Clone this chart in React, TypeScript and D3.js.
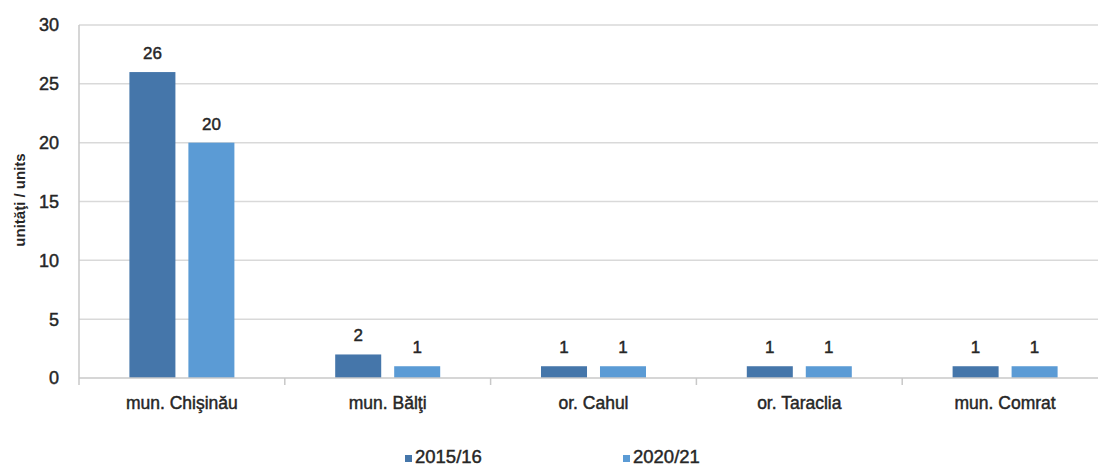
import React from "react";
import * as d3 from "d3";

const categories = ["mun. Chişinău", "mun. Bălţi", "or. Cahul", "or. Taraclia", "mun. Comrat"];
const seriesNames = ["2015/16", "2020/21"];
const values2015 = [26, 2, 1, 1, 1];
const values2020 = [20, 1, 1, 1, 1];
const yTicks = [0, 5, 10, 15, 20, 25, 30];
const colors = ["#4576AA", "#5B9BD5"];

const W = 1098;
const H = 466;
const FONT = "'Liberation Sans', Arial, sans-serif";
const TXT = "#262626";
const SW = 0.45;

export default function App() {
  const left = 79;
  const band = 205.8;
  const x = d3.scaleBand<string>().domain(categories).range([left, left + band * categories.length]).paddingInner(0).paddingOuter(0);
  const inner = d3.scaleBand<string>().domain(seriesNames).range([0, 105]).paddingInner(0.22);
  const y = d3.scaleLinear().domain([0, 30]).range([378, 25]);
  const series = [values2015, values2020];
  const off = (band - 105) / 2;
  const tp = { fill: TXT, stroke: TXT, strokeWidth: SW };

  return (
    <svg width={W} height={H} style={{ position: "absolute", left: 0, top: 0, background: "#fff" }} fontFamily={FONT}>
      {yTicks.map((t) => (
        <g key={t}>
          {t > 0 && <line x1={left} x2={W} y1={y(t)} y2={y(t)} stroke="#d9d9d9" strokeWidth={1.5} />}
          <text x={59} y={y(t)} dy="0.36em" textAnchor="end" fontSize={18} {...tp}>{t}</text>
        </g>
      ))}
      <line x1={left} x2={left} y1={y(30)} y2={y(0)} stroke="#c8c8c8" strokeWidth={1.5} />
      {categories.map((c, i) =>
        series.map((s, j) => {
          const bx = (x(c) as number) + off + (inner(seriesNames[j]) as number);
          const bw = inner.bandwidth();
          return (
            <g key={c + j}>
              <rect x={bx} y={y(s[i])} width={bw} height={y(0) - y(s[i])} fill={colors[j]} />
              <text x={bx + bw / 2} y={y(s[i]) - 13} textAnchor="middle" fontSize={17} {...tp}>{s[i]}</text>
            </g>
          );
        })
      )}
      <line x1={left} x2={W} y1={y(0)} y2={y(0)} stroke="#c8c8c8" strokeWidth={1.5} />
      {categories.map((c) => (
        <g key={"t" + c}>
          <line x1={(x(c) as number)} x2={(x(c) as number)} y1={y(0)} y2={y(0) + 7} stroke="#c8c8c8" strokeWidth={1.5} />
          <text x={(x(c) as number) + band / 2} y={409} textAnchor="middle" fontSize={17.5} {...tp}>{c}</text>
        </g>
      ))}
      <text transform={`translate(25,${200}) rotate(-90)`} textAnchor="middle" fontSize={15} fontWeight="bold" fill={TXT}>unităţi / units</text>
      {seriesNames.map((n, j) => {
        const lx = j === 0 ? 405 : 623;
        return (
          <g key={n}>
            <rect x={lx} y={455} width={7} height={7} fill={colors[j]} />
            <text x={lx + 10} y={463} fontSize={18.5} {...tp}>{n}</text>
          </g>
        );
      })}
    </svg>
  );
}
